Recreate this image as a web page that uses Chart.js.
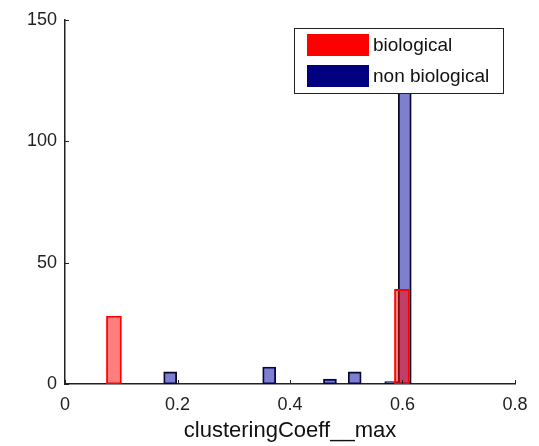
<!DOCTYPE html>
<html>
<head>
<meta charset="utf-8">
<script src="https://cdn.jsdelivr.net/npm/chart.js@4/dist/chart.umd.min.js"></script>
<style>
  html, body { margin: 0; padding: 0; background: #fff; }
  #wrap { width: 539px; height: 446px; }
</style>
</head>
<body>
<div id="wrap"><canvas id="hist"></canvas></div>
<script>
// bin centres and counts
const bioBins = [0.087, 0.599];
const bioCounts = [28, 39];
const nonBioBins = [0.187, 0.363, 0.471, 0.515, 0.580, 0.604];
const nonBioCounts = [5, 7, 2, 5, 1, 145];

const xTicks = [0, 0.2, 0.4, 0.6, 0.8];
const yTicks = [0, 50, 100, 150];

const seriesNames = ["biological", "non biological"];
const swatchColors = ["rgb(255,0,0)", "rgb(0,0,128)"];

function points(xs, ys) {
    return xs.map((x, i) => ({ x: x, y: ys[i] }));
}

// MATLAB style legend box inside the axes, top right
const boxLegend = {
    id: "boxLegend",
    afterDraw(chart) {
        const ctx = chart.ctx;
        const area = chart.chartArea;
        const w = 209, h = 65;
        const left = area.right - 12 - w, top = area.top + 8;
        ctx.save();
        ctx.fillStyle = "#fff";
        ctx.fillRect(left, top, w, h);
        ctx.strokeStyle = "#222";
        ctx.lineWidth = 1;
        ctx.strokeRect(left + 0.5, top + 0.5, w, h);
        ctx.font = "19px 'Liberation Sans', Arial, sans-serif";
        ctx.textBaseline = "middle";
        seriesNames.forEach((name, i) => {
            const cy = top + 17 + i * 31;
            ctx.fillStyle = swatchColors[i];
            ctx.fillRect(left + 13, cy - 11, 62, 22);
            ctx.fillStyle = "#111";
            ctx.fillText(name, left + 79, cy + 1);
        });
        ctx.restore();
    }
};

// small inward tick marks
const inwardTicks = {
    id: "inwardTicks",
    afterDatasetsDraw(chart) {
        const ctx = chart.ctx;
        const xs = chart.scales.x, ys = chart.scales.y;
        const area = chart.chartArea;
        ctx.save();
        ctx.strokeStyle = "#222";
        ctx.lineWidth = 1;
        ctx.beginPath();
        xTicks.forEach(v => {
            const px = Math.round(xs.getPixelForValue(v)) + 0.5;
            ctx.moveTo(px, area.bottom);
            ctx.lineTo(px, area.bottom - 4);
        });
        yTicks.forEach(v => {
            const py = Math.round(ys.getPixelForValue(v)) + 0.5;
            ctx.moveTo(area.left, py);
            ctx.lineTo(area.left + 4, py);
        });
        ctx.stroke();
        ctx.restore();
    }
};

new Chart("hist", {
    type: "bar",
    data: {
        datasets: [
            {
                label: seriesNames[0],
                data: points(bioBins, bioCounts),
                backgroundColor: "rgba(255,0,0,0.5)",
                borderColor: "rgb(255,0,0)",
                borderWidth: 1.2,
                borderSkipped: false,
                barThickness: 15,
                grouped: false,
                order: 0
            },
            {
                label: seriesNames[1],
                data: points(nonBioBins, nonBioCounts),
                backgroundColor: "rgba(0,0,160,0.5)",
                borderColor: "rgb(10,10,30)",
                borderWidth: 1.2,
                borderSkipped: false,
                barThickness: 13,
                grouped: false,
                order: 1
            }
        ]
    },
    options: {
        responsive: true,
        maintainAspectRatio: false,
        animation: false,
        layout: { padding: { left: 0, right: 24, top: 20, bottom: 0 } },
        plugins: {
            legend: { display: false },
            tooltip: { enabled: false }
        },
        scales: {
            x: {
                type: "linear",
                offset: false,
                min: 0,
                max: 0.8,
                afterBuildTicks(scale) { scale.ticks = xTicks.map(v => ({ value: v })); },
                afterFit(scale) { scale.height = 62; },
                grid: { display: false, drawTicks: false, offset: false },
                border: { display: true, color: "#222", width: 1.5 },
                ticks: {
                    padding: 10,
                    color: "#222",
                    font: { family: "'Liberation Sans', Arial, sans-serif", size: 18 },
                    callback: v => String(v)
                },
                title: {
                    display: true,
                    text: "clusteringCoeff__max",
                    color: "#111",
                    padding: { top: 0, bottom: 2 },
                    font: { family: "'Liberation Sans', Arial, sans-serif", size: 22 }
                }
            },
            y: {
                min: 0,
                max: 150,
                afterBuildTicks(scale) { scale.ticks = yTicks.map(v => ({ value: v })); },
                afterFit(scale) { scale.width = 65; },
                grid: { display: false, drawTicks: false },
                border: { display: true, color: "#222", width: 1.5 },
                ticks: {
                    padding: 8,
                    color: "#222",
                    font: { family: "'Liberation Sans', Arial, sans-serif", size: 18 }
                }
            }
        }
    },
    plugins: [inwardTicks, boxLegend]
});
</script>
</body>
</html>
